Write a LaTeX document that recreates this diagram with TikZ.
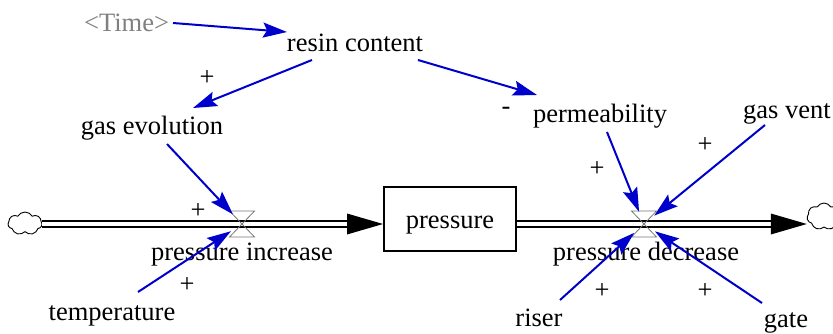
\documentclass[tikz,border=0pt]{standalone}
\usepackage{fontspec}
\setmainfont{Liberation Serif}
\newfontfamily\diagfont{Liberation Serif}
\usetikzlibrary{arrows.meta,shapes.symbols}
\definecolor{linkblue}{RGB}{0,0,204}
\definecolor{timegrey}{RGB}{128,128,128}
\definecolor{valvegrey}{RGB}{120,120,120}
\begin{document}
\begin{tikzpicture}[x=1pt,y=-1pt,
  lbl/.style={font=\diagfont\fontsize{26.5pt}{30pt}\selectfont, inner sep=0pt, text height=18pt, text depth=6pt},
  sign/.style={font=\diagfont\fontsize{26.5pt}{30pt}\selectfont, inner sep=0pt},
  link/.style={draw=linkblue, line width=2pt, -{Stealth[length=24pt,width=15pt,inset=4pt]}},
  pipe/.style={draw=black, line width=2pt, double=white, double distance=4pt},
  flowhead/.style={fill=black},
  valvept/.style={circle, minimum size=26pt, inner sep=0pt},
  valveshape/.style={draw=valvegrey, line width=0.8pt},
  cloudnode/.style={cloud, cloud puffs=7, cloud puff arc=120, cloud ignores aspect, draw, line width=0.9pt, minimum width=34pt, inner sep=0pt},
  stock/.style={draw, line width=2pt, minimum width=132pt, minimum height=64pt, inner sep=0pt,
    font=\diagfont\fontsize{26.5pt}{30pt}\selectfont, text height=24pt, text depth=6pt}
]
\useasboundingbox (0,0) rectangle (833,334);

% stock, clouds, valves
\node[stock] (box) at (450,219) {pressure};
\node[cloudnode, minimum height=23pt] (cloud1) at (25,223.5) {};
\node[cloudnode, minimum height=27pt] (cloud2) at (824,216.5) {};
\node[valvept] (v1) at (242,224) {};
\node[valvept] (v2) at (644,224) {};

% pipes
\coordinate (p1s) at (cloud1.east |- v1.center);
\coordinate (p1e) at (box.west |- v1.center);
\coordinate (p2s) at (box.east |- v2.center);
\coordinate (p2e) at (cloud2.west |- v2.center);
\draw[pipe] (p1s) -- ([shift={(-35,0)}]p1e);
\fill[flowhead] ([shift={(-36,-10.5)}]p1e) -- (p1e) -- ([shift={(-36,10.5)}]p1e) -- cycle;
\draw[pipe] (p2s) -- ([shift={(-35,0)}]p2e);
\fill[flowhead] ([shift={(-36,-10.5)}]p2e) -- (p2e) -- ([shift={(-36,10.5)}]p2e) -- cycle;

% valve symbols
\draw[valveshape] ([shift={(-12.5,-13)}]v1.center) -- ([shift={(12.5,-13)}]v1.center)
  -- ([shift={(-12.5,13)}]v1.center) -- ([shift={(12.5,13)}]v1.center) -- cycle;
\draw[valveshape] ([shift={(-12.5,-13)}]v2.center) -- ([shift={(12.5,-13)}]v2.center)
  -- ([shift={(-12.5,13)}]v2.center) -- ([shift={(12.5,13)}]v2.center) -- cycle;

% labels
\node[lbl, text=timegrey] (time) at (126.5,25.5) {<Time>};
\node[lbl] (resin) at (355,46) {resin content};
\node[lbl] (gasevo) at (152,129) {gas evolution};
\node[lbl] (perm) at (600,117) {permeability};
\node[lbl] (gasvent) at (787,113) {gas vent};
\node[lbl] (temp) at (112,314) {temperature};
\node[lbl] (riser) at (539,320) {riser};
\node[lbl] (gate) at (786,321) {gate};
\node[lbl] (pinc) at (242,254) {pressure increase};
\node[lbl] (pdec) at (646,254) {pressure decrease};

% polarity signs
\node[sign] (s1) at (207,78) {+};
\node[sign] (s2) at (506,111) {-};
\node[sign] (s3) at (198,211) {+};
\node[sign] (s4) at (187,285) {+};
\node[sign] (s5) at (597,169) {+};
\node[sign] (s6) at (705,145) {+};
\node[sign] (s7) at (602,291) {+};
\node[sign] (s8) at (705,291) {+};

% links
\draw[link] ([shift={(46.5,-2.5)}]time.center) -- ([shift={(-68,-14)}]resin.center);
\draw[link] ([shift={(-43,14)}]resin.center) -- ([shift={(41,-21)}]gasevo.center);
\draw[link] ([shift={(63,14)}]resin.center) -- ([shift={(-63,-22)}]perm.center);
\draw[link] ([shift={(15,15)}]gasevo.center) -- (v1);
\draw[link] ([shift={(26,-22)}]temp.center) -- (v1);
\draw[link] ([shift={(7,15)}]perm.center) -- (v2);
\draw[link] ([shift={(-22,12)}]gasvent.center) -- (v2);
\draw[link] ([shift={(21,-20)}]riser.center) -- (v2);
\draw[link] ([shift={(-24,-18)}]gate.center) -- (v2);
\end{tikzpicture}
\end{document}
